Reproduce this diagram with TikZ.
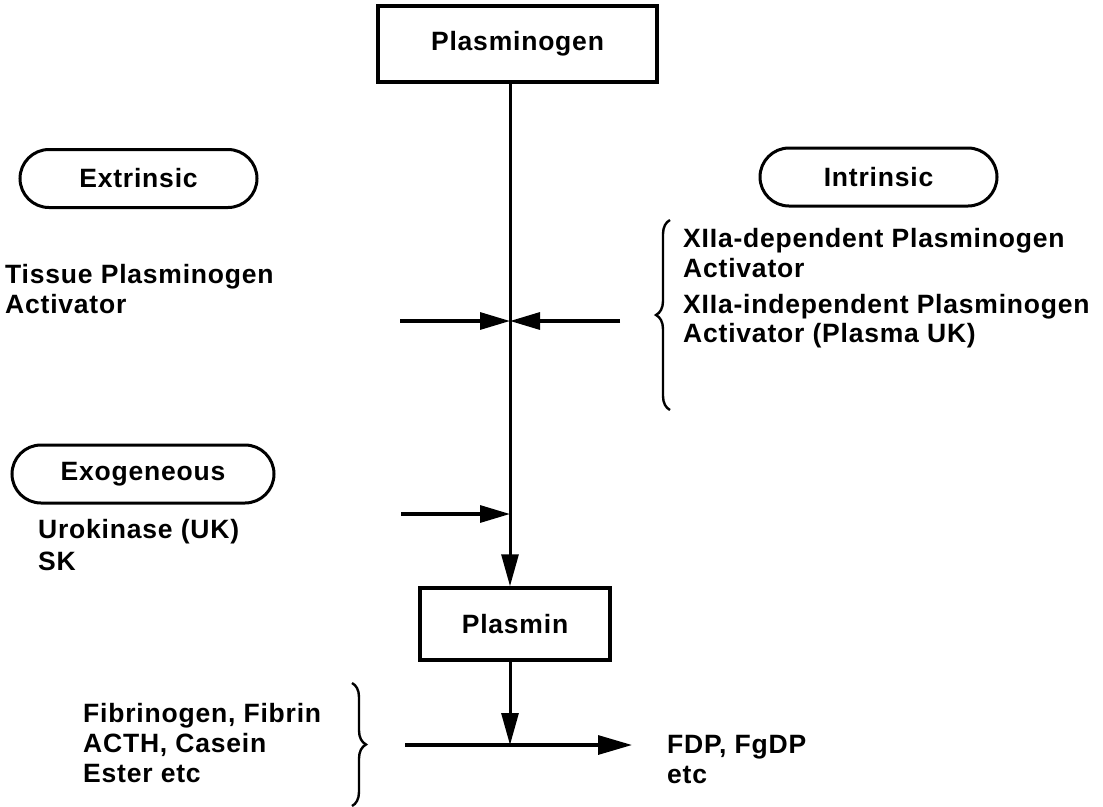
\documentclass[tikz,border=0pt]{standalone}
\usepackage{fontspec}
\setmainfont{Liberation Sans}[LetterSpace=3]
\usetikzlibrary{arrows.meta,decorations.pathreplacing}
\begin{document}
\begin{tikzpicture}[x=1pt,y=-1pt,
  lbl/.style={font=\fontsize{26.5}{30}\selectfont\bfseries, inner sep=0pt},
  txt/.style={lbl, anchor=base west},
  sqbox/.style={draw, line width=3.5pt, lbl},
  pill/.style={draw, line width=3pt, rounded corners=29pt, lbl, minimum height=58pt},
  vflow/.style={line width=3pt, -{Triangle[length=32pt,width=17pt]}},
  hflow/.style={line width=3.2pt, -{Triangle[length=30pt,width=17pt]}},
  bflow/.style={line width=3.2pt, -{Triangle[length=34pt,width=19pt]}},
  brc/.style={line width=2.4pt, decorate, decoration={brace, amplitude=14pt}},
  ]
\useasboundingbox (0,0) rectangle (1103,806);
% boxes
\node[sqbox, minimum width=279pt, minimum height=76pt] (plg) at (517.5,44) {Plasminogen};
\node[sqbox, minimum width=190pt, minimum height=72pt] (pls) at (515,624) {Plasmin};
\node[pill, minimum width=237pt] (ext) at (138.5,178.5) {Extrinsic};
\node[pill, minimum width=237pt] (int) at (878.5,177) {Intrinsic};
\node[pill, minimum width=262pt] (exo) at (143,474) {Exogeneous};
% texts
\node[txt] (tpa1) at (5,283) {Tissue Plasminogen};
\node[txt] (tpa2) at (5,313) {Activator};
\node[txt] (xd1) at (683,247) {XIIa-dependent Plasminogen};
\node[txt] (xd2) at (683,277) {Activator};
\node[txt] (xi1) at (683,313) {XIIa-independent Plasminogen};
\node[txt] (xi2) at (683,342) {Activator (Plasma UK)};
\node[txt] (uk1) at (38,538) {Urokinase (UK)};
\node[txt] (uk2) at (38,570) {SK};
\node[txt] (sb1) at (83,722) {Fibrinogen, Fibrin};
\node[txt] (sb2) at (83,752) {ACTH, Casein};
\node[txt] (sb3) at (83,782) {Ester etc};
\node[txt] (fdp1) at (667,753) {FDP, FgDP};
\node[txt] (fdp2) at (667,783) {etc};
% coordinates
\coordinate (top) at (510,82);
\coordinate (j1) at (510,321);
\coordinate (j2) at (510,514);
\coordinate (j3) at (510,745);
\coordinate (a1) at (400,321);
\coordinate (a2) at (620,321);
\coordinate (a3) at (401,514);
\coordinate (a4) at (405,745);
\coordinate (b4) at (632,745);
% connectors
\draw[vflow] (top) -- (top |- pls.north);
\draw[hflow] (a1) -- (j1);
\draw[hflow] (a2) -- (j1);
\draw[hflow] (a3) -- (j2);
\draw[vflow] (j3 |- pls.south) -- (j3);
\draw[bflow] (a4) -- (b4);
% braces
\draw[brc] (352,683) -- (352,806);
\draw[brc] (670,410) -- (670,220);
\end{tikzpicture}
\end{document}
